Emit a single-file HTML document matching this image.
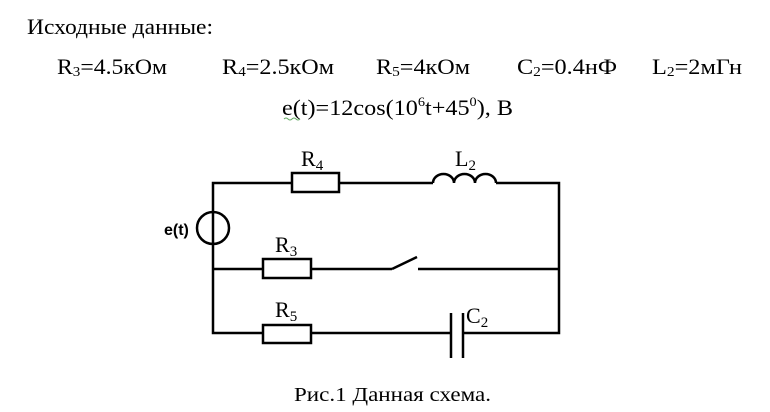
<!DOCTYPE html>
<html><head><meta charset="utf-8"><style>
html,body{margin:0;padding:0;background:#fff;}
svg{display:block;}
text{font-family:"Liberation Serif",serif;fill:#000;}
.s{font-family:"Liberation Sans",sans-serif;font-weight:bold;}
</style></head><body>
<svg width="770" height="412" viewBox="0 0 770 412" xmlns="http://www.w3.org/2000/svg">
<g font-size="22">
<text x="27" y="34" textLength="186" lengthAdjust="spacingAndGlyphs">Исходные данные:</text>
<text x="57" y="74" textLength="110" lengthAdjust="spacingAndGlyphs">R<tspan font-size="14" dy="2">3</tspan><tspan dy="-2">=4.5кОм</tspan></text>
<text x="222" y="74" textLength="112" lengthAdjust="spacingAndGlyphs">R<tspan font-size="14" dy="2">4</tspan><tspan dy="-2">=2.5кОм</tspan></text>
<text x="376" y="74" textLength="94" lengthAdjust="spacingAndGlyphs">R<tspan font-size="14" dy="2">5</tspan><tspan dy="-2">=4кОм</tspan></text>
<text x="517" y="74" textLength="100" lengthAdjust="spacingAndGlyphs">C<tspan font-size="14" dy="2">2</tspan><tspan dy="-2">=0.4нФ</tspan></text>
<text x="652" y="74" textLength="90" lengthAdjust="spacingAndGlyphs">L<tspan font-size="14" dy="2">2</tspan><tspan dy="-2">=2мГн</tspan></text>
<text x="282" y="115" textLength="231" lengthAdjust="spacingAndGlyphs">e(t)=12cos(10<tspan font-size="13" dy="-9">6</tspan><tspan dy="9">t+45</tspan><tspan font-size="13" dy="-9">0</tspan><tspan dy="9">), B</tspan></text>
</g>
<text x="294" y="401" font-size="20" textLength="197" lengthAdjust="spacingAndGlyphs">Рис.1 Данная схема.</text>
<path d="M284,119 q2,-2 4,0 q2,2 4,0 q2,-2 4,0 q2,2 4,0" stroke="#6a6" fill="none" stroke-width="1"/>
<g stroke="#000" stroke-width="2.5" fill="none">
<polyline points="213,212 213,183 292,183"/>
<line x1="339" y1="183" x2="433" y2="183"/>
<polyline points="496,183 559,183 559,333 463,333"/>
<polyline points="213,244 213,333 263,333"/>
<line x1="311" y1="333" x2="451" y2="333"/>
<line x1="213" y1="269" x2="263" y2="269"/>
<line x1="311" y1="269" x2="392" y2="269"/>
<line x1="392" y1="269" x2="417" y2="257"/>
<line x1="418" y1="269" x2="559" y2="269"/>
<rect x="292" y="173" width="47" height="19" fill="#fff"/>
<rect x="263" y="259" width="48" height="19" fill="#fff"/>
<rect x="263" y="325" width="48" height="18" fill="#fff"/>
<path d="M433,183 a10.5,9 0 0 1 21,0 a10.5,9 0 0 1 21,0 a10.5,9 0 0 1 21,0"/>
<line x1="451" y1="313" x2="451" y2="358"/>
<line x1="463" y1="313" x2="463" y2="358"/>
<circle cx="213" cy="228" r="16" fill="#fff"/>
<line x1="213" y1="213" x2="213" y2="243"/>
</g>
<g font-size="22">
<text x="301" y="166">R<tspan font-size="15" dy="4">4</tspan></text>
<text x="455" y="166">L<tspan font-size="15" dy="4">2</tspan></text>
<text x="275" y="252">R<tspan font-size="15" dy="4">3</tspan></text>
<text x="275" y="317">R<tspan font-size="15" dy="4">5</tspan></text>
<text x="466" y="323">C<tspan font-size="15" dy="4">2</tspan></text>
</g>
<text class="s" x="164" y="235" font-size="16">e(t)</text>
</svg>
</body></html>
